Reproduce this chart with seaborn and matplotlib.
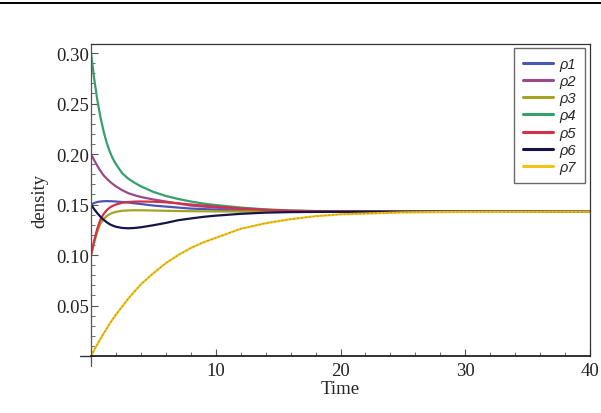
import matplotlib
matplotlib.use("Agg")
import matplotlib.pyplot as plt
from matplotlib.lines import Line2D
from matplotlib.ticker import MultipleLocator
import pandas as pd
import seaborn as sns

# values
time = [0, 0.25, 0.5, 0.75, 1, 1.25, 1.5, 1.75, 2, 2.5, 3, 3.5, 4, 5, 6, 7, 8, 9, 10,
        12, 14, 16, 18, 20, 25, 30, 35, 40]

rho1 = [0.150, 0.1515, 0.1525, 0.1530, 0.1533, 0.1534, 0.1533, 0.1532, 0.1530, 0.1525,
        0.1520, 0.1512, 0.1505, 0.1490, 0.1480, 0.1470, 0.1460, 0.1455, 0.1450,
        0.1442, 0.1437, 0.1433, 0.1431, 0.1430, 0.1429, 0.1429, 0.1429, 0.1429]
rho2 = [0.200, 0.194, 0.1885, 0.1835, 0.179, 0.1758, 0.1728, 0.1703, 0.168, 0.1642,
        0.1612, 0.1592, 0.1575, 0.155, 0.153, 0.151, 0.149, 0.148, 0.147,
        0.145, 0.144, 0.1435, 0.1432, 0.1430, 0.1429, 0.1429, 0.1429, 0.1429]
rho3 = [0.100, 0.112, 0.123, 0.131, 0.1355, 0.1385, 0.1405, 0.1419, 0.1428, 0.1438,
        0.1442, 0.1443, 0.1443, 0.1441, 0.1438, 0.1436, 0.1434, 0.1433, 0.1432,
        0.1431, 0.1430, 0.1430, 0.1429, 0.1429, 0.1429, 0.1429, 0.1429, 0.1429]
rho4 = [0.300, 0.275, 0.254, 0.237, 0.223, 0.2115, 0.2025, 0.1955, 0.190, 0.181,
        0.1755, 0.1715, 0.168, 0.1625, 0.1585, 0.1555, 0.153, 0.151, 0.1495,
        0.147, 0.1452, 0.1441, 0.1436, 0.1433, 0.1430, 0.1429, 0.1429, 0.1429]
rho5 = [0.100, 0.114, 0.126, 0.135, 0.1405, 0.1443, 0.147, 0.1488, 0.150, 0.1518,
        0.1525, 0.1529, 0.1530, 0.1528, 0.1522, 0.1512, 0.1500, 0.1490, 0.1480,
        0.1462, 0.1448, 0.1439, 0.1434, 0.1431, 0.1429, 0.1429, 0.1429, 0.1429]
rho6 = [0.150, 0.1455, 0.1415, 0.1380, 0.1350, 0.1326, 0.1305, 0.1291, 0.1280, 0.1268,
        0.1265, 0.1268, 0.1275, 0.1295, 0.1318, 0.1345, 0.1362, 0.1378, 0.1390,
        0.1408, 0.1420, 0.1425, 0.1427, 0.1428, 0.1429, 0.1429, 0.1429, 0.1429]
rho7 = [0.000, 0.0058, 0.0114, 0.0168, 0.022, 0.027, 0.032, 0.0366, 0.041, 0.049,
        0.057, 0.064, 0.071, 0.082, 0.092, 0.100, 0.107, 0.1125, 0.117,
        0.126, 0.1315, 0.1355, 0.1385, 0.1403, 0.1422, 0.1427, 0.1428, 0.1429]

names = ["\u03c11", "\u03c12", "\u03c13", "\u03c14", "\u03c15", "\u03c16", "\u03c17"]
colors = ["#4a56b6", "#9a4a8c", "#a6a226", "#36a06c", "#d23048", "#141448", "#f2c418"]

sns.set_style("white")
plt.rcParams["font.family"] = ["Liberation Serif", "DejaVu Serif"]

frames = []
for name, vals in zip(names, [rho1, rho2, rho3, rho4, rho5, rho6, rho7]):
    frames.append(pd.DataFrame({"Time": time, "density": vals, "series": name}))
df = pd.concat(frames, ignore_index=True)

fig = plt.figure(figsize=(6.01, 4.14), dpi=100)
ax = fig.add_axes([91 / 601, 57 / 414, 499 / 601, 312 / 414])

sns.lineplot(data=df, x="Time", y="density", hue="series", palette=dict(zip(names, colors)),
             estimator=None, sort=False, linewidth=1.6, ax=ax)

# faint darker dashes seen inside the yellow curve
sns.lineplot(x=time, y=rho7, color="#6f6030", linewidth=0.7, alpha=0.45,
             ax=ax, legend=False).lines[-1].set_dashes((2, 2))

ax.set_xlim(0, 40)
ax.set_ylim(0, 0.309)
ax.set_xticks([10, 20, 30, 40])
ax.set_xticklabels(["10", "20", "30", "40"])
ax.xaxis.set_minor_locator(MultipleLocator(2))
ax.set_yticks([0.05, 0.10, 0.15, 0.20, 0.25, 0.30])
ax.set_yticklabels(["0.05", "0.10", "0.15", "0.20", "0.25", "0.30"])
ax.yaxis.set_minor_locator(MultipleLocator(0.01))

ax.tick_params(axis="both", which="both", direction="in", colors="#555555",
               labelcolor="#222222", labelsize=13.5)
ax.tick_params(axis="both", which="major", length=5, width=0.8)
ax.tick_params(axis="both", which="minor", length=3, width=0.6)
ax.tick_params(axis="y", which="major", pad=1)
ax.tick_params(axis="x", which="major", pad=4)
ax.tick_params(left=True, bottom=True, which="both")

for side, sp in ax.spines.items():
    sp.set_visible(True)
    sp.set_color("#333333")
    sp.set_linewidth(0.9)
ax.spines["left"].set_color("#555555")
ax.spines["bottom"].set_color("#222222")
ax.spines["bottom"].set_linewidth(1.3)

# axis stubs past the origin
ax.add_line(Line2D([-11 / 499, 0], [0, 0], transform=ax.transAxes, clip_on=False,
                   color="#333333", lw=1.0))
ax.add_line(Line2D([0, 0], [-10 / 312, 0], transform=ax.transAxes, clip_on=False,
                   color="#555555", lw=0.9))

ax.set_xlabel("Time", fontsize=13.5, labelpad=1)
ax.set_ylabel("density", fontsize=13.5, labelpad=6)

handles = [Line2D([], [], color=c, lw=2.2) for c in colors]
leg = ax.legend(handles, names, loc="upper right", bbox_to_anchor=(0.99, 0.987),
                borderaxespad=0, frameon=True, fancybox=False,
                handlelength=2.1, handletextpad=0.45, labelspacing=0.22, borderpad=0.6,
                prop={"family": "Liberation Sans", "style": "italic", "size": 10.5})
leg.get_frame().set_edgecolor("#444444")
leg.get_frame().set_linewidth(1.0)

fig.add_artist(Line2D([0, 1], [1 - 4 / 414, 1 - 4 / 414], color="black", lw=1.4))

fig.savefig("out.png", dpi=100)
